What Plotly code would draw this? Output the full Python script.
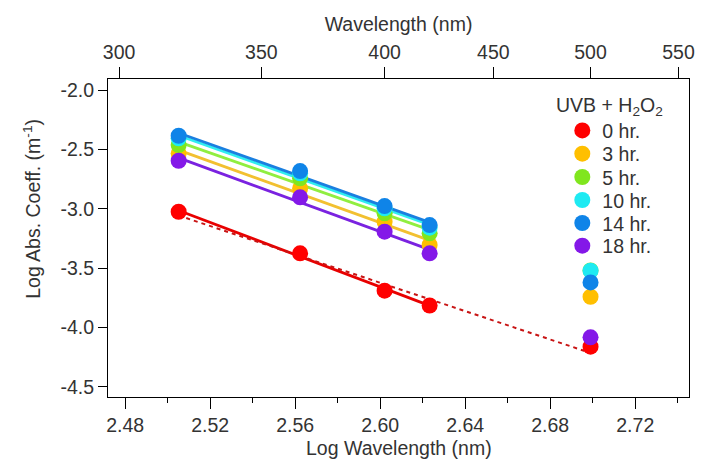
import numpy as np
import plotly.graph_objects as go

# ---- data ----
wavelength_nm = [320, 365, 400, 420, 500]
series_names = ["0 hr.", "3 hr.", "5 hr.", "10 hr.", "14 hr.", "18 hr."]
abs_0hr = [-3.026, -3.376, -3.691, -3.816, -4.163]
abs_3hr = [-2.534, -2.829, -3.110, -3.306, -3.742]
abs_5hr = [-2.464, -2.744, -3.039, -3.208, -3.520]
abs_10hr = [-2.407, -2.702, -2.997, -3.160, -3.523]
abs_14hr = [-2.385, -2.683, -2.978, -3.138, -3.621]
abs_18hr = [-2.596, -2.904, -3.194, -3.376, -4.084]
series_values = [abs_0hr, abs_3hr, abs_5hr, abs_10hr, abs_14hr, abs_18hr]

top_tick_wl = [300, 350, 400, 450, 500, 550]
bottom_ticks = [2.48, 2.52, 2.56, 2.60, 2.64, 2.68, 2.72]
bottom_minor = [2.50, 2.54, 2.58, 2.62, 2.66, 2.70, 2.74]
y_ticks = [-2.0, -2.5, -3.0, -3.5, -4.0, -4.5]

# ---- style ----
marker_colors = ["#ff0000", "#ffbf00", "#80e61e", "#1eeaf2", "#0f84e8", "#8418e8"]
line_colors = ["#e80000", "#f2c030", "#90ee40", "#30eef0", "#1a7fe0", "#7a22e0"]
FONT = "Liberation Sans, Arial, sans-serif"
TXT = "#333333"
FS = 19.5

# plot area in pixels (for placing legend pieces)
L, R, T, B = 108, 695, 79, 397
def px_x(px):
    return (px - L) / (R - L)
def px_y(py):
    return (B - py) / (B - T)

logx = np.log10(np.array(wavelength_nm, dtype=float))

fig = go.Figure()

# fitted lines (320-420 nm), solid
for vals, lc in zip(series_values, line_colors):
    xs = logx[:4]
    ys = np.array(vals[:4])
    k, b = np.polyfit(xs, ys, 1)
    fx = np.array([xs[0], xs[-1]])
    fig.add_trace(go.Scatter(x=fx, y=k * fx + b, mode="lines",
                             line=dict(color=lc, width=2.8),
                             showlegend=False, hoverinfo="skip"))

# dashed fit for 0 hr over all wavelengths
k0, b0 = np.polyfit(logx, np.array(abs_0hr), 1)
fx0 = np.array([logx[0], logx[-1]])
fig.add_trace(go.Scatter(x=fx0, y=k0 * fx0 + b0, mode="lines",
                         line=dict(color="#c81414", width=2, dash="4px,4px"),
                         showlegend=False, hoverinfo="skip"))

# markers, one legend box per series so spacing can match the reference
legend_rows_px = [130.7, 154.0, 177.3, 200.3, 223.3, 246.0]
legend_layouts = {}
for i, (name, vals, mc) in enumerate(zip(series_names, series_values, marker_colors)):
    lname = "legend" if i == 0 else f"legend{i + 1}"
    fig.add_trace(go.Scatter(x=logx, y=vals, mode="markers", name=name,
                             legend=lname,
                             marker=dict(color=mc, size=16, line=dict(width=0))))
    legend_layouts[lname] = dict(
        x=px_x(567), y=px_y(legend_rows_px[i]), xanchor="left", yanchor="middle",
        bgcolor="rgba(0,0,0,0)", borderwidth=0, itemsizing="trace",
        font=dict(family=FONT, size=FS, color=TXT))

# dummy trace for top axis
fig.add_trace(go.Scatter(x=np.log10(top_tick_wl), y=[None] * len(top_tick_wl),
                         xaxis="x2", mode="markers", showlegend=False,
                         hoverinfo="skip"))

xr = [2.4719, 2.7453]
fig.update_layout(
    width=703, height=466,
    margin=dict(l=L, r=703 - R, t=T, b=466 - B),
    paper_bgcolor="white", plot_bgcolor="white",
    font=dict(family=FONT, size=FS, color=TXT),
    showlegend=True,
    xaxis=dict(range=xr, tickvals=bottom_ticks,
               ticktext=[f"{v:.2f}" for v in bottom_ticks],
               ticks="outside", ticklen=11, tickwidth=1, tickcolor="black",
               showline=True, linecolor="black", linewidth=1, mirror=False,
               showgrid=False, zeroline=False,
               minor=dict(ticks="outside", ticklen=5, tickwidth=1,
                          tickcolor="black", tickvals=bottom_minor),
               tickfont=dict(size=FS, color=TXT)),
    xaxis2=dict(range=xr, overlaying="x", side="top", anchor="y",
                tickvals=list(np.log10(top_tick_wl)),
                ticktext=[str(v) for v in top_tick_wl],
                ticks="outside", ticklen=11, tickwidth=1, tickcolor="black",
                showline=True, linecolor="black", linewidth=1,
                showgrid=False, zeroline=False,
                tickfont=dict(size=FS, color=TXT),
                title=dict(text="Wavelength (nm)", standoff=4,
                           font=dict(size=FS, color=TXT))),
    yaxis=dict(range=[-4.587, -1.907], tickvals=y_ticks,
               ticktext=[f"{v:.1f}" for v in y_ticks],
               ticks="outside", ticklen=9, tickwidth=1, tickcolor="black",
               showline=True, linecolor="black", linewidth=1, mirror=True,
               showgrid=False, zeroline=False,
               tickfont=dict(size=FS, color=TXT)),
    annotations=[
        dict(text="Log Wavelength (nm)",
             xref="paper", yref="paper", x=px_x(402), y=px_y(448),
             xanchor="center", yanchor="middle", showarrow=False,
             font=dict(family=FONT, size=FS, color=TXT)),
        dict(text="Log Abs. Coeff. (m<sup>-1</sup>)", textangle=-90,
             xref="paper", yref="paper", x=px_x(31), y=px_y(209),
             xanchor="center", yanchor="middle", showarrow=False,
             font=dict(family=FONT, size=FS, color=TXT)),
        dict(text="UVB + H<sub>2</sub>O<sub>2</sub>",
             xref="paper", yref="paper", x=px_x(559), y=px_y(106),
             xanchor="left", yanchor="middle", showarrow=False,
             font=dict(family=FONT, size=FS, color=TXT)),
    ],
    **legend_layouts,
)

fig.write_html("out.html")
